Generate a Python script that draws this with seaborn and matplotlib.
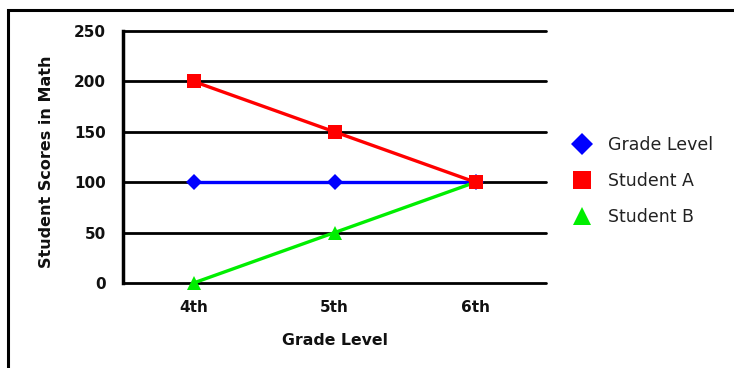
import matplotlib
matplotlib.use("Agg")
import matplotlib.pyplot as plt
from matplotlib.patches import Rectangle
from matplotlib.lines import Line2D
import seaborn as sns
import pandas as pd

# Chart data
grades = ["4th", "5th", "6th"]
grade_level = [100, 100, 100]
student_a = [200, 150, 100]
student_b = [0, 50, 100]
series_names = ["Grade Level", "Student A", "Student B"]
y_ticks = [0, 50, 100, 150, 200, 250]

colors = {"Grade Level": "#0000ff", "Student A": "#ff0000", "Student B": "#00ee00"}
markers = {"Grade Level": "D", "Student A": "s", "Student B": "^"}
msizes = {"Grade Level": 8, "Student A": 10, "Student B": 10}
zorders = {"Grade Level": 3, "Student B": 4, "Student A": 5}

sns.set_style("white")
plt.rcParams["font.family"] = ["DejaVu Sans"]

fig = plt.figure(figsize=(7.34, 3.68), dpi=100)
W, H = 734, 368
ax = fig.add_axes([123 / W, 1 - 283 / H, (546 - 123) / W, (283 - 31) / H])

# Outer frame around the whole chart
fig.patches.append(Rectangle((8 / W, -0.1), 1.2, 1 - 10 / H + 0.1,
                             transform=fig.transFigure, fill=False,
                             edgecolor="black", linewidth=2.2, zorder=0))

df = pd.DataFrame({
    "grade": grades * 3,
    "pos": list(range(len(grades))) * 3,
    "score": grade_level + student_a + student_b,
    "series": [s for s in series_names for _ in grades],
})

for name in series_names:
    sub = df[df["series"] == name]
    sns.lineplot(data=sub, x="pos", y="score", ax=ax, color=colors[name],
                 linewidth=2.4, marker=markers[name], markersize=msizes[name],
                 markeredgewidth=0, zorder=zorders[name], legend=False,
                 clip_on=False)

ax.set_xlim(-0.5, len(grades) - 0.5)
ax.set_ylim(0, 250)
ax.set_yticks(y_ticks)
ax.set_xticks(range(len(grades)))
ax.set_xticklabels(grades)
ax.grid(axis="y", color="black", linewidth=2)
ax.set_axisbelow(True)
for gl in ax.get_ygridlines():
    gl.set_clip_on(False)
for s in ["top", "right", "bottom"]:
    ax.spines[s].set_visible(False)
ax.spines["left"].set_linewidth(2.5)
ax.spines["left"].set_color("black")
ax.tick_params(axis="y", length=7.5, width=2, color="black", pad=5,
               labelsize=11)
ax.tick_params(axis="x", length=0, pad=12, labelsize=11)
for lab in ax.get_xticklabels() + ax.get_yticklabels():
    lab.set_fontweight("bold")
    lab.set_color("#111111")

ax.set_xlabel("Grade Level", fontsize=11.3, fontweight="bold", labelpad=13,
              color="#111111")
ax.set_ylabel("Student Scores in Math", fontsize=11.5, fontweight="bold",
              color="#111111")
ax.yaxis.set_label_coords(47 / W, 1 - 162 / H, transform=fig.transFigure)
ax.yaxis.label.set_verticalalignment("center")

handles = [Line2D([], [], linestyle="none", marker=markers[n], color=colors[n],
                  markersize=msizes[n] + 3, markeredgewidth=0)
           for n in series_names]
fig.legend(handles, series_names, loc="upper left",
           bbox_to_anchor=(573 / W, 1 - 136 / H), frameon=False,
           borderpad=0, borderaxespad=0, handlelength=1.0,
           fontsize=12.5, labelspacing=1.05, handletextpad=1.0,
           labelcolor="#222222")

fig.savefig("out.png", dpi=100, facecolor="white")
